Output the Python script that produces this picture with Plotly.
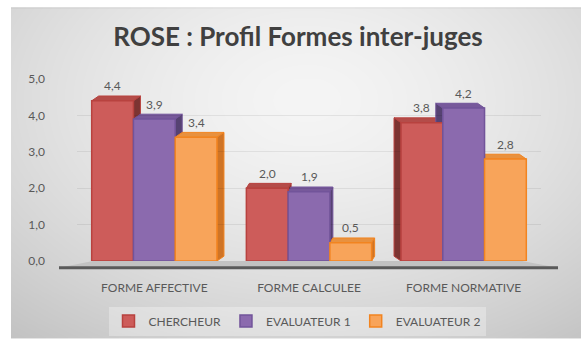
import base64
import struct
import zlib

import numpy as np
import plotly.graph_objects as go

# ---- data ----
categories = ["FORME AFFECTIVE", "FORME CALCULEE", "FORME NORMATIVE"]
series_names = ["CHERCHEUR", "EVALUATEUR 1", "EVALUATEUR 2"]
chercheur = [4.4, 2.0, 3.8]
evaluateur_1 = [3.9, 1.9, 4.2]
evaluateur_2 = [3.4, 0.5, 2.8]
y_ticks = [0, 1, 2, 3, 4, 5]

series_values = [chercheur, evaluateur_1, evaluateur_2]

# ---- styling ----
FRONT = ["#cd5c5a", "#8b6aae", "#f8a45a"]
EDGE = ["#b8423f", "#72549a", "#f28420"]
SIDE = ["#7c3432", "#564272", "#cf7426"]
TOP = ["#b44c49", "#77599b", "#e8913f"]
TEXT = "#595959"
FONT = "Lato"

# plot-area geometry (pixels)
W_PX, H_PX = 581, 347
L, R, T, B = 77, 40, 79, 80
PW = W_PX - L - R
PH = H_PX - T - B
X_RANGE = [-0.5, 2.5]
Y_RANGE = [0, 5]
px_x = (X_RANGE[1] - X_RANGE[0]) / PW   # data units per pixel (x)
px_y = (Y_RANGE[1] - Y_RANGE[0]) / PH   # data units per pixel (y)

BAR_W = 0.27
offsets = [-1.5 * BAR_W, -0.5 * BAR_W, 0.5 * BAR_W]
# apparent depth of the bars per category (pixels), simple perspective
depth_dx = [7, 3, -7]
depth_dy = 5


def paper_x(px):
    return (px - L) / PW


def paper_y(py):
    return (H_PX - B - py) / PH


# ---- soft radial background ----
def gradient_png(w, h):
    yy, xx = np.mgrid[0:h, 0:w]
    u = xx / (w - 1)
    v = yy / (h - 1)
    d = np.sqrt(((u - 0.52) / 0.7) ** 2 + ((v - 0.28) / 0.8) ** 2)
    val = np.clip(245 - 40 * d ** 1.5, 0, 255)
    val[0:1, :] = val[0:1, :] - 18
    img = val.astype(np.uint8)
    raw = b"".join(b"\x00" + img[r].tobytes() for r in range(h))

    def chunk(tag, data):
        c = struct.pack(">I", len(data)) + tag + data
        return c + struct.pack(">I", zlib.crc32(tag + data) & 0xFFFFFFFF)

    png = b"\x89PNG\r\n\x1a\n"
    png += chunk(b"IHDR", struct.pack(">IIBBBBB", w, h, 8, 0, 0, 0, 0))
    png += chunk(b"IDAT", zlib.compress(raw, 9))
    png += chunk(b"IEND", b"")
    return "data:image/png;base64," + base64.b64encode(png).decode()


bg_left, bg_top, bg_right, bg_bottom = 11, 5, 581, 347
bg_src = gradient_png(bg_right - bg_left, bg_bottom - bg_top)

fig = go.Figure()

x_groups = list(range(len(categories)))
for i, (name, vals) in enumerate(zip(series_names, series_values)):
    fig.add_trace(go.Bar(
        name=name,
        x=x_groups,
        y=vals,
        offset=offsets[i],
        width=BAR_W,
        marker=dict(color=FRONT[i], line=dict(color=EDGE[i], width=1.5)),
        hoverinfo="skip",
    ))

shapes = []
annotations = []

# depth faces (top + side) built from the same values as the bars
for i, vals in enumerate(series_values):
    for g, val in enumerate(vals):
        x0 = g + offsets[i]
        x1 = x0 + BAR_W
        dx = depth_dx[g] * px_x
        dy = depth_dy * px_y
        # top face
        top = (f"M {x0},{val} L {x1},{val} L {x1 + dx},{val + dy} "
               f"L {x0 + dx},{val + dy} Z")
        shapes.append(dict(type="path", path=top, xref="x", yref="y",
                           fillcolor=TOP[i], line=dict(color=EDGE[i], width=1),
                           layer="below"))
        # side face
        xs = x1 if dx > 0 else x0
        side = (f"M {xs},0 L {xs},{val} L {xs + dx},{val + dy} "
                f"L {xs + dx},{dy} Z")
        shapes.append(dict(type="path", path=side, xref="x", yref="y",
                           fillcolor=SIDE[i], line=dict(color=EDGE[i], width=1),
                           layer="below"))
        annotations.append(dict(
            x=x0 + BAR_W / 2, y=val, xref="x", yref="y",
            text=f"{val:.1f}".replace(".", ","), showarrow=False,
            yanchor="middle", yshift=15,
            font=dict(family=FONT, size=12, color=TEXT),
        ))

# floor slab and front axis edge
floor_path = (f"M {paper_x(93)},{paper_y(267)} L {paper_x(522)},{paper_y(267)} "
              f"L {paper_x(558)},{paper_y(274)} L {paper_x(59)},{paper_y(274)} Z")
shapes.insert(0, dict(type="path", path=floor_path, xref="paper", yref="paper",
                      fillcolor="#c2c2c2", line=dict(width=0), layer="below"))
shapes.append(dict(type="line", xref="paper", yref="paper",
                   x0=paper_x(59), x1=paper_x(558),
                   y0=paper_y(274), y1=paper_y(274),
                   line=dict(color="#5a5a5a", width=3), layer="above"))

fig.update_layout(
    width=W_PX,
    height=H_PX,
    margin=dict(l=L, r=R, t=T, b=B),
    paper_bgcolor="white",
    plot_bgcolor="rgba(0,0,0,0)",
    separators=",.",
    barmode="overlay",
    title=dict(
        text="<b>ROSE : Profil Formes inter-juges</b>",
        x=paper_x(298), xanchor="center", y=0.893, yanchor="middle",
        xref="paper", yref="container",
        font=dict(family=FONT, size=26, color="#404040"),
    ),
    xaxis=dict(
        range=X_RANGE,
        tickvals=x_groups,
        ticktext=categories,
        showgrid=False,
        zeroline=False,
        showline=False,
        ticks="",
        ticklabelstandoff=18,
        tickfont=dict(family=FONT, size=12, color=TEXT),
    ),
    yaxis=dict(
        range=Y_RANGE,
        tickvals=y_ticks,
        tickformat=".1f",
        showgrid=True,
        gridcolor="rgba(0,0,0,0.07)",
        gridwidth=1,
        zeroline=False,
        showline=False,
        ticks="",
        ticklabelstandoff=31,
        tickfont=dict(family=FONT, size=12, color=TEXT),
    ),
    legend=dict(
        orientation="h",
        x=paper_x(297), xanchor="center",
        y=paper_y(314), yanchor="top",
        bgcolor="rgba(255,255,255,0.3)",
        font=dict(family=FONT, size=12, color=TEXT),
        itemwidth=30,
        tracegroupgap=0,
    ),
    shapes=shapes,
    annotations=annotations,
    images=[dict(
        source=bg_src, xref="paper", yref="paper",
        x=paper_x(bg_left), y=paper_y(bg_top),
        sizex=(bg_right - bg_left) / PW, sizey=(bg_bottom - bg_top) / PH,
        xanchor="left", yanchor="top", sizing="stretch", layer="below",
    )],
    showlegend=True,
)

fig.write_html("out.html")
